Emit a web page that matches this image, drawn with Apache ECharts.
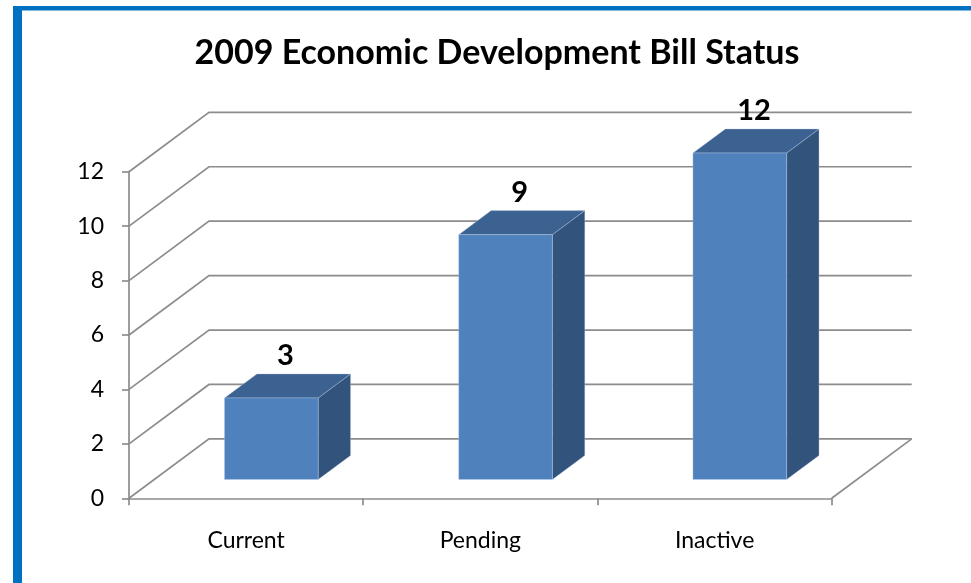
<!DOCTYPE html>
<html>
<head>
<meta charset="utf-8">
<title>2009 Economic Development Bill Status</title>
<script src="https://cdn.jsdelivr.net/npm/echarts@6/dist/echarts.min.js"></script>
<style>
  html, body { margin: 0; padding: 0; background: #ffffff; }
  #chart { width: 971px; height: 583px; }
</style>
</head>
<body>
<div id="chart"></div>
<script>
// Bill counts by status
const categories = ['Current', 'Pending', 'Inactive'];
const billCounts = [3, 9, 12];
const yTicks = [0, 2, 4, 6, 8, 10, 12];

// Oblique projection of the chart's depth (pixels) and bar placement within it
const DEPTH_X = 80;
const DEPTH_Y = -59.4;
const BAR_FRONT = 0.315;
const BAR_BACK = 0.72;
const BAR_WIDTH_RATIO = 0.4;

const FONT = 'Lato, "Open Sans", sans-serif';
const GRID_COLOR = '#8c8c8c';
const FRONT_COLOR = '#4f81bd';
const TOP_COLOR = '#3c6291';
const SIDE_COLOR = '#32537b';
const FRAME_BLUE = '#0070c0';

const chart = echarts.init(document.getElementById('chart'), null, { renderer: 'canvas' });

// Walls: one bent line per y tick (left wall diagonal + back wall), plus the floor's right edge
function renderWalls(params, api) {
  const v = api.value(1);
  const cs = params.coordSys;
  const y = api.coord([0, v])[1];
  const x0 = cs.x;
  const x1 = cs.x + cs.width;
  const children = [{
    type: 'polyline',
    shape: { points: [[x0, y], [x0 + DEPTH_X, y + DEPTH_Y], [x1 + DEPTH_X, y + DEPTH_Y]] },
    style: { stroke: GRID_COLOR, lineWidth: 1.7, fill: null }
  }];
  if (v === 0) {
    children.push({
      type: 'line',
      shape: { x1: x1, y1: y, x2: x1 + DEPTH_X, y2: y + DEPTH_Y },
      style: { stroke: GRID_COLOR, lineWidth: 1.7 }
    });
  }
  return { type: 'group', children: children };
}

// 3D box bars with value labels above the top face
function renderBars(params, api) {
  const idx = api.value(0);
  const v = api.value(1);
  const base = api.coord([idx, 0]);
  const top = api.coord([idx, v]);
  const band = api.size([1, 0])[0];
  const w = band * BAR_WIDTH_RATIO;
  const x0 = base[0] - w / 2 + DEPTH_X * BAR_FRONT;
  const x1 = x0 + w;
  const yb = base[1] + DEPTH_Y * BAR_FRONT;
  const yt = top[1] + DEPTH_Y * BAR_FRONT;
  const bx = DEPTH_X * (BAR_BACK - BAR_FRONT);
  const by = DEPTH_Y * (BAR_BACK - BAR_FRONT);
  const edge = { stroke: 'rgba(190,210,235,0.45)', lineWidth: 0.8 };
  return {
    type: 'group',
    children: [
      {
        type: 'polygon',
        shape: { points: [[x1, yt], [x1 + bx, yt + by], [x1 + bx, yb + by], [x1, yb]] },
        style: Object.assign({ fill: SIDE_COLOR }, edge)
      },
      {
        type: 'polygon',
        shape: { points: [[x0, yt], [x1, yt], [x1 + bx, yt + by], [x0 + bx, yt + by]] },
        style: Object.assign({ fill: TOP_COLOR }, edge)
      },
      {
        type: 'rect',
        shape: { x: x0, y: yt, width: w, height: yb - yt },
        style: Object.assign({ fill: FRONT_COLOR }, edge)
      },
      {
        type: 'text',
        style: {
          text: String(v),
          x: (x0 + x1) / 2 + bx / 2 - 2,
          y: yt + by - 18,
          align: 'center',
          verticalAlign: 'middle',
          fontFamily: FONT,
          fontWeight: 'bold',
          fontSize: 29,
          fill: '#000000'
        }
      }
    ]
  };
}

const option = {
  animation: false,
  backgroundColor: '#ffffff',
  title: {
    text: '2009 Economic Development Bill Status',
    left: 492,
    top: 31,
    textAlign: 'center',
    textStyle: { fontFamily: FONT, fontWeight: 'bold', fontSize: 34, color: '#000000' }
  },
  graphic: [
    { type: 'rect', shape: { x: 13, y: 6, width: 9, height: 577 }, style: { fill: FRAME_BLUE }, silent: true },
    { type: 'rect', shape: { x: 13, y: 6, width: 958, height: 4.5 }, style: { fill: FRAME_BLUE }, silent: true }
  ],
  grid: { left: 129, right: 139.3, top: 171.7, bottom: 84.7, containLabel: false },
  xAxis: {
    type: 'category',
    data: categories,
    boundaryGap: true,
    axisLine: { show: true, lineStyle: { color: GRID_COLOR, width: 1.7 } },
    axisTick: { show: true, length: 7, alignWithLabel: false, lineStyle: { color: GRID_COLOR, width: 1.7 } },
    axisLabel: { fontFamily: FONT, fontSize: 23, color: '#000000', margin: 31 },
    splitLine: { show: false }
  },
  yAxis: {
    type: 'value',
    min: 0,
    max: 12,
    interval: 2,
    axisLine: { show: true, lineStyle: { color: GRID_COLOR, width: 1.7 } },
    axisTick: { show: true, length: 7, lineStyle: { color: GRID_COLOR, width: 1.7 } },
    axisLabel: { fontFamily: FONT, fontSize: 23, color: '#000000', margin: 25, padding: [8, 0, 0, 0] },
    splitLine: { show: false }
  },
  series: [
    {
      type: 'custom',
      name: 'walls',
      renderItem: renderWalls,
      data: yTicks.map(function (v) { return [0, v]; }),
      encode: { x: 0, y: 1 },
      silent: true,
      z: 1
    },
    {
      type: 'custom',
      name: 'Bills',
      renderItem: renderBars,
      data: billCounts.map(function (v, i) { return [i, v]; }),
      encode: { x: 0, y: 1 },
      z: 2
    }
  ]
};

chart.setOption(option);
</script>
</body>
</html>
